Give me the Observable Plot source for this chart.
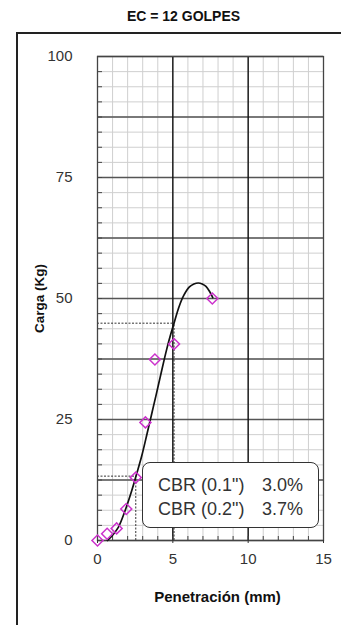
<!DOCTYPE html>
<html>
<head>
<meta charset="utf-8">
<script src="https://cdn.jsdelivr.net/npm/d3@7"></script>
<script src="https://cdn.jsdelivr.net/npm/@observablehq/plot@0.6"></script>
<style>
  html, body { margin: 0; padding: 0; background: #fff; overflow: hidden; }
  #wrap { position: relative; width: 341px; height: 625px; overflow: hidden; font-family: "Liberation Sans", Arial, sans-serif; }
  #title { position: absolute; top: 8px; left: 0; width: 367px; text-align: center; font-weight: bold; font-size: 14px; color: #111; }
  #outer { position: absolute; left: 16px; top: 32px; width: 420px; height: 700px; border: 2px solid #222; box-sizing: border-box; }
  #chart { position: absolute; left: 0; top: 33px; }
  #cbrbox { position: absolute; left: 142px; top: 462px; width: 177px; height: 66px; box-sizing: border-box;
            border: 1.5px solid #333; border-radius: 8px; background: #fff; padding: 10px 0 0 15px;
            font-family: "Liberation Sans", Arial, sans-serif; font-size: 18px; color: #333; line-height: 24px; }
  #cbrbox .row { display: flex; white-space: nowrap; }
  #cbrbox .lab { width: 104px; }
</style>
</head>
<body>
<div id="wrap">
  <div id="title">EC = 12 GOLPES</div>
  <div id="outer"></div>
  <div id="chart"></div>
  <div id="cbrbox"></div>
</div>
<script>
// Measured points (penetration mm, load kg)
const penetracion = [0, 0.64, 1.27, 1.91, 2.54, 3.18, 3.81, 5.08, 7.62];
const carga       = [0, 1.4, 2.5, 6.5, 13.0, 24.4, 37.4, 40.6, 50.0];

// Fitted curve
const curveX = [0.66, 1.0, 1.38, 1.8, 2.27, 2.6, 2.93, 3.3, 3.6, 3.9, 4.15, 4.4, 4.6, 4.85, 5.08, 5.4, 5.7, 6.1, 6.4, 6.69, 6.95, 7.2, 7.45, 7.65];
const curveY = [0, 1.1, 2.7, 5.9, 10.3, 13.8, 17.4, 22.2, 26.2, 30.2, 33.6, 37.0, 39.6, 42.5, 44.9, 48.2, 50.5, 52.4, 53.0, 53.2, 53.0, 52.5, 51.4, 50.2];

// CBR reference lines
const cbrPen  = [2.54, 5.08];
const cbrLoad = [13.3, 44.9];
const cbrLabels = ['CBR (0.1")', 'CBR (0.2")'];
const cbrValues = ['3.0%', '3.7%'];

// Ticks / grid
const xTicks = [0, 5, 10, 15];
const yTicks = [0, 25, 50, 75, 100];
const xMinor = d3.range(0, 15.001, 1);
const xMajor = [5, 10];
const yMinor = d3.range(0, 100.001, 3.125);
const yMajor = d3.range(0, 100.001, 12.5);

const points = penetracion.map((x, i) => ({x, y: carga[i]}));
const curve = curveX.map((x, i) => ({x, y: curveY[i]}));
const refs = cbrPen.map((x, i) => ({x, y: cbrLoad[i]}));

const chart = Plot.plot({
  width: 341,
  height: 592,
  marginTop: 23,
  marginRight: 18,
  marginBottom: 85,
  marginLeft: 97,
  x: {domain: [0, 15]},
  y: {domain: [0, 100]},
  style: {fontFamily: '"Liberation Sans", Arial, sans-serif', fontSize: "15px", color: "#333", background: "transparent", overflow: "visible"},
  marks: [
    Plot.ruleX(xMinor, {stroke: "#cfcfcf", strokeWidth: 1}),
    Plot.ruleY(yMinor, {stroke: "#cfcfcf", strokeWidth: 1}),
    Plot.ruleY(yMajor, {stroke: "#555", strokeWidth: 1.3}),
    Plot.ruleX(xMajor, {stroke: "#111", strokeWidth: 1.4}),
    Plot.ruleY(refs, {y: "y", x1: 0, x2: "x", stroke: "#333", strokeWidth: 1, strokeDasharray: "2,1.5"}),
    Plot.ruleX(refs, {x: "x", y1: 0, y2: "y", stroke: "#333", strokeWidth: 1, strokeDasharray: "2,1.5"}),
    Plot.frame({stroke: "#444", strokeWidth: 1.3}),
    Plot.axisY(yTicks, {tickSize: 0, tickPadding: 25, fontSize: 15, label: null}),
    Plot.axisY(yMinor, {tickSize: -5, text: null, label: null, stroke: "#444"}),
    Plot.axisX(xTicks, {tickSize: 3, tickPadding: 10, fontSize: 15, label: null, stroke: "#333"}),
    Plot.axisX(xMinor, {tickSize: -4, text: null, label: null, stroke: "#444"}),
    Plot.line(curve, {x: "x", y: "y", curve: "catmull-rom", stroke: "#111", strokeWidth: 1.7}),
    Plot.dot(points, {x: "x", y: "y", symbol: "square", rotate: 45, r: 4.4, stroke: "#cc33cc", strokeWidth: 1.5, fill: "none"}),
    Plot.text(["Carga (Kg)"], {frameAnchor: "left", rotate: -90, dx: -58, textAnchor: "middle", lineAnchor: "middle", fontWeight: "bold", fontSize: 13.5, fill: "#111"}),
    Plot.text(["Penetración (mm)"], {frameAnchor: "bottom", dy: 57, dx: 7, textAnchor: "middle", lineAnchor: "middle", fontWeight: "bold", fontSize: 15, fill: "#111"})
  ]
});
document.getElementById("chart").appendChild(chart);

const box = document.getElementById("cbrbox");
cbrLabels.forEach((lab, i) => {
  const row = document.createElement("div");
  row.className = "row";
  const a = document.createElement("span"); a.className = "lab"; a.textContent = lab;
  const b = document.createElement("span"); b.textContent = cbrValues[i];
  row.appendChild(a); row.appendChild(b);
  box.appendChild(row);
});
</script>
</body>
</html>
